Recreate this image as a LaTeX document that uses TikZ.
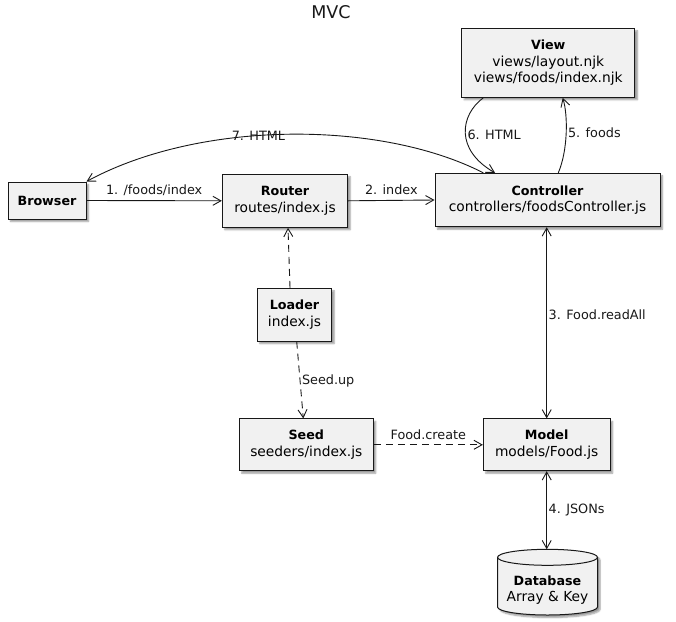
\documentclass[tikz,border=0pt]{standalone}
\usepackage{fontspec}
\setmainfont{DejaVu Sans}
\usetikzlibrary{arrows.meta,shadows.blur}
\definecolor{boxfill}{HTML}{F1F1F1}
\definecolor{ink}{HTML}{181818}
\newcommand{\hd}[1]{{\fontsize{12.7}{16.7}\selectfont\bfseries #1}}
\tikzset{
  >={Straight Barb[length=8pt,width=9pt]},
  box/.style={draw=ink, fill=boxfill, line width=1pt, align=center, inner sep=0pt,
    font=\fontsize{13.8}{16.7}\selectfont,
    blur shadow={shadow xshift=2.5pt, shadow yshift=-2.5pt, shadow blur steps=6, shadow blur radius=1.5pt}},
  link/.style={->, draw=ink, line width=.9pt},
  dep/.style={link, dash pattern=on 7pt off 5pt},
  lbl/.style={font=\fontsize{12.8}{15}\selectfont, text=ink, inner sep=1.5pt},
  over/.style={lbl, midway, above=3.5pt},
}
\begin{document}
\begin{tikzpicture}[x=1pt,y=-1pt]
  \useasboundingbox (0,0) rectangle (676,621);
  \node[font=\fontsize{17.5}{20}\selectfont, text=ink] (title) at (331,12) {MVC};

  %% top row
  \node[box, minimum width=78pt, minimum height=37pt] (browser) at (47,200.5) {\hd{Browser}};
  \node[box, minimum width=125.4pt, minimum height=53pt] (router) at (285,200.8) {\hd{Router}\\routes/index.js};
  \node[box, minimum width=225pt, minimum height=53.4pt] (ctrl) at (547.5,200) {\hd{Controller}\\controllers/foodsController.js};
  \node[box, minimum width=173.3pt, minimum height=69pt] (view) at (548.3,62.8) {\hd{View}\\views/layout.njk\\views/foods/index.njk};

  %% loader, seed, model
  \node[box, minimum width=74.4pt, minimum height=52.7pt] (loader) at (294.5,314.7) {\hd{Loader}\\index.js};
  \node[box, minimum width=134pt, minimum height=51.7pt] (seed) at (306.3,444.8) {\hd{Seed}\\seeders/index.js};
  \node[box, minimum width=126.7pt, minimum height=51.7pt] (model) at (546.7,444.8) {\hd{Model}\\models/Food.js};

  %% database
  \filldraw[draw=ink, fill=boxfill, line width=1pt, blur shadow={shadow xshift=2.5pt, shadow yshift=-2.5pt, shadow blur steps=6, shadow blur radius=1.5pt}]
    (497.5,557.3) -- (497.5,607) arc[start angle=180, end angle=360, x radius=50pt, y radius=8pt]
    -- (597.5,557.3) arc[start angle=0, end angle=180, x radius=50pt, y radius=8pt] -- cycle;
  \draw[draw=ink, line width=1pt] (497.5,557.3) arc[start angle=180, end angle=360, x radius=50pt, y radius=8pt];
  \node[align=center, inner sep=0pt, font=\fontsize{13.8}{16.7}\selectfont] (db) at (547.5,590) {\hd{Database}\\Array \& Key};
  \coordinate (dbtop) at (546.7,549.3);

  %% requests
  \draw[link] (browser.east) to node[over] {1. /foods/index} (router.west);
  \draw[link] (router.east) to node[over] {2. index} (ctrl.west);
  \draw[link, <->] (model.north |- ctrl.south) to node[lbl, pos=.46, anchor=west] {3. Food.readAll} (model.north);
  \draw[link, <->] (model.south) to node[lbl, pos=.5, anchor=west] {4. JSONs} (dbtop);
  \draw[link] ([xshift=10.8pt]ctrl.north) .. controls (568,150) and (568,115) .. node[lbl, pos=.5, anchor=west] {5. foods} ([xshift=14.4pt]view.south);
  \draw[link] ([xshift=-65pt]view.south) .. controls (460,115) and (455,150) .. node[lbl, pos=.52, anchor=west] {6. HTML} ([xshift=-52.5pt]ctrl.north);
  \draw[link] ([xshift=-64.2pt]ctrl.north) .. controls (380,120) and (200,120) .. node[lbl, pos=.57] {7. HTML} (browser.north east);

  %% seeding
  \draw[dep] ([xshift=-4.5pt]loader.north) to ([xshift=3pt]router.south);
  \draw[dep] ([xshift=2.2pt]loader.south) to node[lbl, pos=.51, anchor=west] {Seed.up} ([xshift=-3pt]seed.north);
  \draw[dep] (seed.east) to node[over] {Food.create} (model.west);
\end{tikzpicture}
\end{document}
